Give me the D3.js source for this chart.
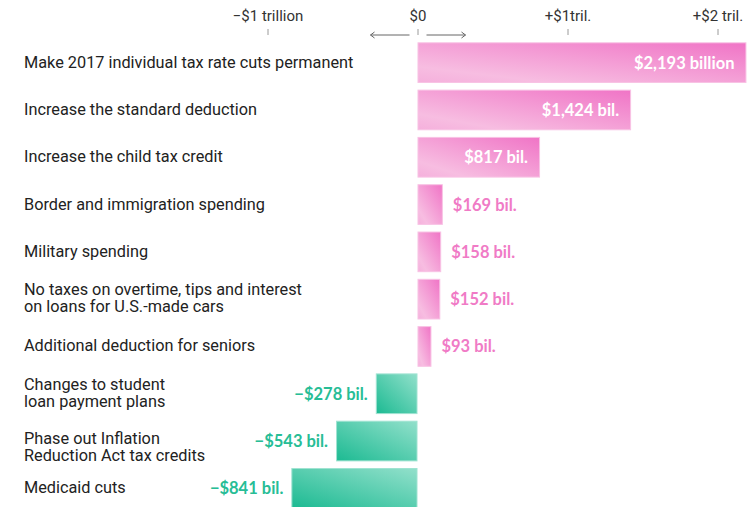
<!DOCTYPE html>
<html>
<head>
<meta charset="utf-8">
<script src="https://cdn.jsdelivr.net/npm/d3@7/dist/d3.min.js"></script>
<style>
  html, body { margin: 0; padding: 0; background: #fff; }
  svg { display: block; }
</style>
</head>
<body>
<svg id="chart" width="755" height="507"></svg>
<script>
// ---------- DATA ----------
const categories = [
  "Make 2017 individual tax rate cuts permanent",
  "Increase the standard deduction",
  "Increase the child tax credit",
  "Border and immigration spending",
  "Military spending",
  "No taxes on overtime, tips and interest\non loans for U.S.-made cars",
  "Additional deduction for seniors",
  "Changes to student\nloan payment plans",
  "Phase out Inflation\nReduction Act tax credits",
  "Medicaid cuts"
];
const values = [2193, 1424, 817, 169, 158, 152, 93, -278, -543, -841]; // billions of dollars
const valueLabels = [
  "$2,193 billion", "$1,424 bil.", "$817 bil.", "$169 bil.", "$158 bil.",
  "$152 bil.", "$93 bil.", "\u2212$278 bil.", "\u2212$543 bil.", "\u2212$841 bil."
];
const tickValues = [-1000, 0, 1000, 2000];
const tickLabels = ["\u2212$1 trillion", "$0", "+$1tril.", "+$2 tril."];

// ---------- LAYOUT ----------
const svg = d3.select("#chart");

const x = d3.scaleLinear().domain([-1000, 2000]).range([267.5, 717.5]);
const y = d3.scaleBand()
  .domain(d3.range(categories.length))
  .range([42.3, 508.7])
  .paddingInner(0.14)
  .paddingOuter(0);

const PINK = "#f07bc6", GREEN = "#27bd96";
const labelFont = "Roboto, 'Liberation Sans', Arial, sans-serif";
const valueFont = "Lato, 'Liberation Sans', Arial, sans-serif";

// gradients
const defs = svg.append("defs");
const pg = defs.append("linearGradient").attr("id", "pinkGrad")
  .attr("x1", 0).attr("y1", 1).attr("x2", 1).attr("y2", 0);
pg.append("stop").attr("offset", 0).attr("stop-color", "#f5b0dc");
pg.append("stop").attr("offset", 0.2).attr("stop-color", "#f7bde1");
pg.append("stop").attr("offset", 1).attr("stop-color", "#f074c6");
const gg = defs.append("linearGradient").attr("id", "greenGrad")
  .attr("x1", 0).attr("y1", 1).attr("x2", 1).attr("y2", 0);
gg.append("stop").attr("offset", 0).attr("stop-color", "#1cba92");
gg.append("stop").attr("offset", 1).attr("stop-color", "#92e0cb");

// ---------- AXIS ----------
const axisY = 35;
const axis = d3.axisTop(x)
  .tickValues(tickValues)
  .tickFormat((d, i) => tickLabels[i])
  .tickSize(6)
  .tickPadding(8);
const gAxis = svg.append("g").attr("transform", `translate(0,${axisY})`).call(axis);
gAxis.select(".domain").remove();
gAxis.selectAll(".tick line").attr("stroke", "#9a9a9a");
gAxis.selectAll(".tick text")
  .attr("fill", "#333")
  .style("font-family", labelFont)
  .style("font-size", "15px");

// direction arrows around zero
const x0 = x(0);
const arrowG = svg.append("g").attr("stroke", "#666").attr("fill", "none").attr("stroke-width", 1);
arrowG.append("line").attr("x1", x0 - 47).attr("x2", x0 - 8).attr("y1", axisY).attr("y2", axisY);
arrowG.append("path").attr("d", `M${x0 - 43},${axisY - 3} L${x0 - 47},${axisY} L${x0 - 43},${axisY + 3}`);
arrowG.append("line").attr("x1", x0 + 9).attr("x2", x0 + 48).attr("y1", axisY).attr("y2", axisY);
arrowG.append("path").attr("d", `M${x0 + 44},${axisY - 3} L${x0 + 48},${axisY} L${x0 + 44},${axisY + 3}`);

// ---------- BARS ----------
const rows = svg.append("g").selectAll("g").data(values).join("g");

rows.append("rect")
  .attr("x", d => x(Math.min(0, d)) + 0.5)
  .attr("y", (d, i) => y(i) + 0.5)
  .attr("width", d => Math.abs(x(d) - x(0)) - 1)
  .attr("height", y.bandwidth() - 1)
  .attr("fill", d => d >= 0 ? "url(#pinkGrad)" : "url(#greenGrad)")
  .attr("stroke", d => d >= 0 ? "#f8c2e4" : "#9fe3d1")
  .attr("stroke-width", 1);

// value labels
const inside = d => d >= 0 && (x(d) - x(0)) > 100;
rows.append("text")
  .attr("x", d => d < 0 ? x(d) - 8 : (inside(d) ? x(d) - 12 : x(d) + 10))
  .attr("y", (d, i) => y(i) + y.bandwidth() / 2 + 6)
  .attr("text-anchor", d => (d < 0 || inside(d)) ? "end" : "start")
  .attr("fill", d => d < 0 ? GREEN : (inside(d) ? "#ffffff" : PINK))
  .style("font-family", valueFont)
  .style("font-weight", 700)
  .style("font-size", "16.5px")
  .text((d, i) => valueLabels[i]);

// category labels
const lineShift = {8: 7}; // small manual nudge for one two-line label
const cat = svg.append("g").selectAll("text").data(categories).join("text")
  .attr("x", 24)
  .attr("fill", "#222")
  .style("font-family", labelFont)
  .style("font-size", "16.3px");
cat.each(function (d, i) {
  const lines = d.split("\n");
  const c = y(i) + y.bandwidth() / 2;
  const t = d3.select(this);
  if (lines.length === 1) {
    t.attr("y", c + 5).text(d);
  } else {
    const base = c - 4 + (lineShift[i] || 0);
    lines.forEach((ln, k) => {
      t.append("tspan").attr("x", 24).attr("y", base + k * 17).text(ln);
    });
  }
});
</script>
</body>
</html>
